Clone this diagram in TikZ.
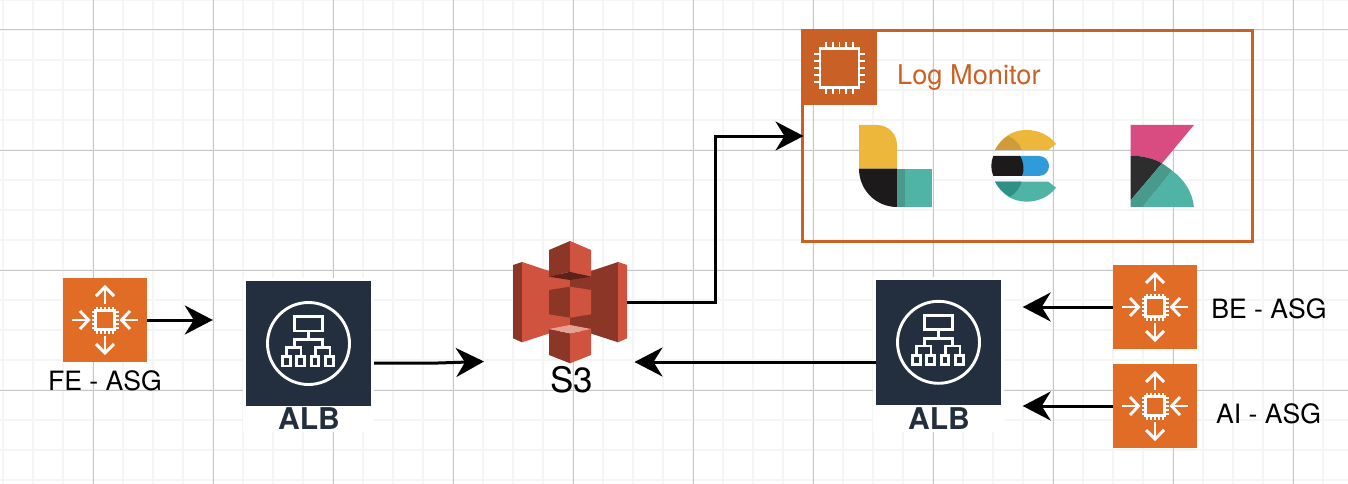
\documentclass[tikz,border=0pt]{standalone}
\usepackage{fontspec}
\setmainfont{TeX Gyre Heros}
\usetikzlibrary{
    arrows.meta,
    positioning,
    calc,
    fit,
    backgrounds,
}
\definecolor{asgorange}{HTML}{E06C26}
\definecolor{logorange}{HTML}{C96126}
\definecolor{albnavy}{HTML}{232F3E}
\definecolor{s3light}{HTML}{D05340}
\definecolor{s3dark}{HTML}{8C3628}
\definecolor{s3under}{HTML}{5E2119}
\definecolor{s3top}{HTML}{E7A193}
\definecolor{elkyellow}{HTML}{EDB73B}
\definecolor{elkamber}{HTML}{CE9C38}
\definecolor{elkblack}{HTML}{1C1A1B}
\definecolor{elkteal}{HTML}{4FB3A6}
\definecolor{elkdeep}{HTML}{489A8D}
\definecolor{elksea}{HTML}{2F9085}
\definecolor{elkblue}{HTML}{2F9BD8}
\definecolor{elkpink}{HTML}{D94C82}
\definecolor{elkcoal}{HTML}{2D2D2D}

\begin{document}
\begin{tikzpicture}[
    x=1pt, y=-1pt,
    asgbox/.style={fill=asgorange, minimum size=84pt, inner sep=0pt},
    albbox/.style={fill=albnavy, minimum size=125pt, inner sep=0pt},
    caption/.style={inner sep=0pt, anchor=base, font=\fontsize{26.6}{30}\selectfont},
    albtext/.style={caption, text=albnavy, font=\fontsize{30}{32}\selectfont\bfseries},
    halo/.style={fill=white, inner sep=3pt},
    link/.style={line width=3pt, -{Stealth[length=28pt, width=29pt, inset=9pt]}},
    minorline/.style={line width=1.8pt, color=black!4},
    majorline/.style={line width=1pt, color=black!22},
    glyph/.style={draw=white, line width=2.9pt},
    asgicon/.pic={
        \foreach \a in {0,180} {
            \begin{scope}[rotate=\a]
                \draw[glyph] (0,-16) -- (0,-33);
                \draw[glyph] (-9,-24) -- (0,-33) -- (9,-24);
                \draw[glyph] (-33,0) -- (-16.5,0);
                \draw[glyph] (-25,-9) -- (-16.5,0) -- (-25,9);
            \end{scope}
        }
        \foreach \p in {-8,-4,0,4,8} {
            \draw[white, line width=1.6pt] (\p,-13.5) -- (\p,13.5);
            \draw[white, line width=1.6pt] (-13.5,\p) -- (13.5,\p);
        }
        \fill[white] (-11,-11) rectangle (11,11);
        \fill[asgorange] (-7.8,-7.8) rectangle (7.8,7.8);
    },
    albicon/.pic={
        \draw[glyph] (0,0) circle[radius=41];
        \draw[glyph] (-14,-27) rectangle (14,-12.5);
        \draw[glyph] (0,-12.5) -- (0,-4);
        \draw[glyph] (-14,3.7) -- (-14,-4) -- (14,-4) -- (14,3.7);
        \draw[glyph] (-22,12.5) -- (-22,3.7) -- (-7.5,3.7) -- (-7.5,12.5);
        \draw[glyph] (7,12.5) -- (7,3.7) -- (21.5,3.7) -- (21.5,12.5);
        \foreach \p in {-22,-8,6.5,21} {
            \draw[glyph] (\p-3.8,13.2) rectangle (\p+3.8,22.5);
        }
    },
    chipicon/.pic={
        \draw[white, line width=2.8pt] (-19.5,-19.5) rectangle (19.5,19.5);
        \foreach \p in {-13.6,-6.8,0,6.8,13.6} {
            \draw[white, line width=1.9pt] (\p,-25.7) -- (\p,-20.7);
            \draw[white, line width=1.9pt] (\p,20.7) -- (\p,25.7);
            \draw[white, line width=1.9pt] (-25.7,\p) -- (-20.7,\p);
            \draw[white, line width=1.9pt] (20.7,\p) -- (25.7,\p);
        }
    },
    s3icon/.pic={
        % wings
        \fill[s3dark] (-57,-37) -- (-48,-40) -- (-48,40.3) -- (-57,36.3) -- cycle;
        \fill[s3light] (-48,-40) -- (0,-24) -- (0,24.7) -- (-48,40.3) -- cycle;
        \fill[s3dark] (48,-40) -- (0,-24) -- (0,24.7) -- (48,40.3) -- cycle;
        \fill[s3light] (48,-40) -- (57,-37) -- (57,36.3) -- (48,40.3) -- cycle;
        % top block
        \fill[s3dark] (-21,-52) -- (0,-61) -- (0,-30.3) -- (-21,-25.3) -- cycle;
        \fill[s3light] (0,-61) -- (21,-52) -- (21,-25.3) -- (0,-30.3) -- cycle;
        \fill[s3under] (-21,-25.3) -- (0,-30.3) -- (21,-25.3) -- (0,-22) -- cycle;
        % middle block
        \fill[s3dark] (-21,-12) -- (0,-15.3) -- (0,15.7) -- (-21,12.3) -- cycle;
        \fill[s3light] (0,-15.3) -- (21,-12) -- (21,12.3) -- (0,15.7) -- cycle;
        % bottom block
        \fill[s3dark] (-21,27) -- (0,31.3) -- (0,61.3) -- (-21,53) -- cycle;
        \fill[s3light] (0,31.3) -- (21,27) -- (21,53) -- (0,61.3) -- cycle;
        \fill[s3top] (-21,27) -- (0,23) -- (21,27) -- (0,31.3) -- cycle;
    },
]
\useasboundingbox (0,0) rectangle (1348,484);

\node[asgbox] (fe) at (105,320) {};
\node[asgbox] (be) at (1155,307) {};
\node[asgbox] (ai) at (1155,406) {};
\node[albbox] (albl) at (308.5,343.5) {};
\node[albbox] (albr) at (938.5,342.3) {};
\node[minimum width=114pt, minimum height=122pt, inner sep=0pt] (s3) at (570,302) {};

\node[caption] (fetext) at (105,390) {FE - ASG};
\node[caption] (betext) at (1269,318) {BE - ASG};
\node[caption] (aitext) at (1268.5,423) {AI - ASG};
\node[albtext] (albltext) at (309,429) {ALB};
\node[albtext] (albrtext) at (939,429) {ALB};
\node[caption, font=\fontsize{35}{38}\selectfont] (s3text) at (571.5,392) {S3};

\draw[logorange, line width=3pt] (802,31) rectangle (1252.5,241);
\node[minimum width=451pt, minimum height=210pt, inner sep=0pt] (logbox) at (1027.5,136) {};
\node[fill=logorange, minimum size=75pt, inner sep=0pt] (logchip) at (839.5,68) {};
\node[caption, anchor=base west, text=logorange, font=\fontsize{27.2}{30}\selectfont] (logtitle) at (897,85) {Log Monitor};

\pic at (fe) {asgicon};
\pic at (be) {asgicon};
\pic at (ai) {asgicon};
\pic at (albl) {albicon};
\pic at (albr) {albicon};
\pic at (logchip) {chipicon};
\pic at (s3) {s3icon};

% logstash, elasticsearch, kibana
\begin{scope}[shift={(800,20)}, x=0.3333pt, y=-0.3333pt]
    \fill[elkyellow] (177,315) -- (230,315) .. controls (265,315) and (291,342) .. (291,375) -- (291,446) -- (177,446) -- cycle;
    \fill[elkblack] (177,446) -- (291,446) -- (291,561) .. controls (228,561) and (177,510) .. (177,446) -- cycle;
    \fill[elkteal] (291,446) rectangle (395,561);
    \fill[elkdeep] (291,446) rectangle (315,561);

    \fill[elkyellow] (585,390) .. controls (605,350) and (640,330) .. (680,330) .. controls (715,330) and (748,345) .. (768,372) -- (745,390) -- cycle;
    \fill[elkamber] (585,390) .. controls (595,372) and (608,358) .. (625,348) .. controls (645,358) and (660,372) .. (665,390) -- cycle;
    \fill[elkblue] (660,408) -- (717,408) .. controls (735,408) and (747,422) .. (747,438) .. controls (747,454) and (735,468) .. (717,468) -- (660,468) -- cycle;
    \fill[elkblack] (580,408) -- (660,408) .. controls (670,420) and (675,455) .. (665,468) -- (580,468) .. controls (572,450) and (572,426) .. (580,408) -- cycle;
    \fill[elkteal] (585,485) .. controls (605,525) and (640,545) .. (680,545) .. controls (715,545) and (748,530) .. (768,503) -- (745,485) -- cycle;
    \fill[elksea] (585,485) .. controls (595,503) and (608,517) .. (630,530) .. controls (648,520) and (660,503) .. (665,485) -- cycle;

    \fill[elkpink] (992,315) -- (1182,315) -- (1086,430) .. controls (1060,415) and (1025,407) .. (992,407) -- cycle;
    \fill[elkcoal] (992,407) .. controls (1025,407) and (1060,415) .. (1086,430) -- (992,541) -- cycle;
    \fill[elkteal] (1116,452) .. controls (1155,480) and (1178,520) .. (1182,561) -- (1028,561) -- cycle;
    \fill[elkdeep] (992,541) -- (1086,430) .. controls (1097,437) and (1107,444) .. (1116,452) -- (1028,561) -- (992,561) -- cycle;
\end{scope}

\coordinate (albout) at (374,363);
\coordinate (s3jog) at (438,363);
\coordinate (s3in) at (484,361.5);
\coordinate (s3back) at (634.5,362);
\coordinate (logbend) at (715,220);
\coordinate (logend) at (803.5,136);

\draw[link, shorten >=33pt] (fe.east) -- (fe.east -| albl.west);
\draw[link] (albout) -- (s3jog) -- (s3in);
\draw[link] (s3.east) -| (logbend) |- (logend);
\draw[link] (s3back -| albr.west) -- (s3back);
\draw[link, shorten >=21.5pt] (be.west) -- (be.west -| albr.east);
\draw[link, shorten >=21.5pt] (ai.west) -- (ai.west -| albr.east);

\begin{scope}[on background layer]
    \foreach \x in {3,33,...,1323} {
        \draw[minorline] (\x,0) -- (\x,484);
    }
    \foreach \y in {0,30,...,480} {
        \draw[minorline] (0,\y) -- (1348,\y);
    }
    \foreach \x in {93,213,...,1293} {
        \draw[majorline] (\x,0) -- (\x,484);
    }
    \foreach \y in {30,150,270,390} {
        \draw[majorline] (0,\y) -- (1348,\y);
    }
    \node[halo, fit=(albl)(albltext)] (albhalol) {};
    \node[halo, fit=(albr)(albrtext)] (albhalor) {};
\end{scope}

\end{tikzpicture}
\end{document}
